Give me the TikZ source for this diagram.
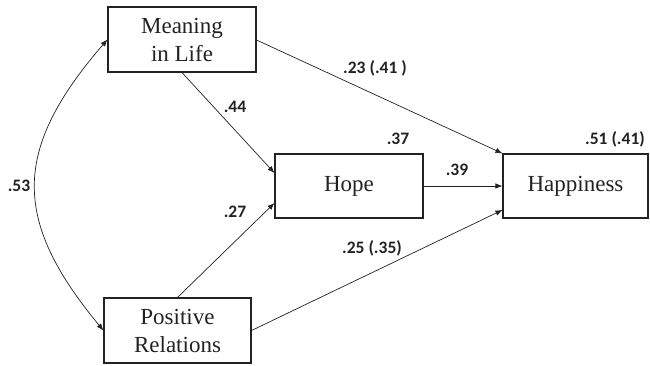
\documentclass[tikz,border=0pt]{standalone}
\usepackage{fontspec}
\setmainfont{Liberation Serif}
\newfontfamily\lblfont{Carlito}
\usetikzlibrary{arrows.meta,calc}
\definecolor{ink}{HTML}{222222}
\begin{document}
\begin{tikzpicture}[x=1pt,y=-1pt,
  box/.style={draw=ink,line width=1.1pt,inner sep=0pt,align=center,text=ink,
    font=\fontsize{23}{28}\selectfont},
  lbl/.style={text=ink,inner sep=0pt,font=\lblfont\bfseries\fontsize{17.5}{20}\selectfont},
  conn/.style={draw=ink,line width=0.7pt,-{Latex[length=7pt,width=5.5pt]}},
  conn2/.style={draw=ink,line width=0.7pt,{Latex[length=7pt,width=5.5pt]}-{Latex[length=7pt,width=5.5pt]}}]
\useasboundingbox (0,0) rectangle (650,365);
\node[box,minimum width=148pt,minimum height=65pt] (mil) at (182,39.5) {Meaning\\in Life};
\node[box,minimum width=148pt,minimum height=64pt] (hope) at (349,186) {Hope};
\node[box,minimum width=145pt,minimum height=64pt] (hap) at (575.5,186) {Happiness};
\node[box,minimum width=147pt,minimum height=65pt] (pr) at (177.5,330.5) {Positive\\Relations};
\draw[conn] (mil.south) -- ([yshift=13pt]hope.west);
\draw[conn] (pr.north) -- ([yshift=-17pt]hope.west);
\draw[conn] (hope.east) -- (hap.west);
\draw[conn] ([yshift=-0.5pt]mil.east) -- (hap.north west);
\draw[conn] (pr.east) -- ([yshift=-24pt]hap.west);
\draw[conn2] (mil.west) .. controls (12,150) and (12,220) .. (pr.west);
\node[lbl] (l44) at (235,107) {.44};
\node[lbl] (l23) at (375,68) {.23 (.41 )};
\node[lbl] (l37) at (398,139) {.37};
\node[lbl] (l51) at (615,139) {.51 (.41)};
\node[lbl] (l39) at (457,170) {.39};
\node[lbl] (l53) at (19,186) {.53};
\node[lbl] (l27) at (235,212) {.27};
\node[lbl] (l25) at (372,248) {.25 (.35)};
\end{tikzpicture}
\end{document}
